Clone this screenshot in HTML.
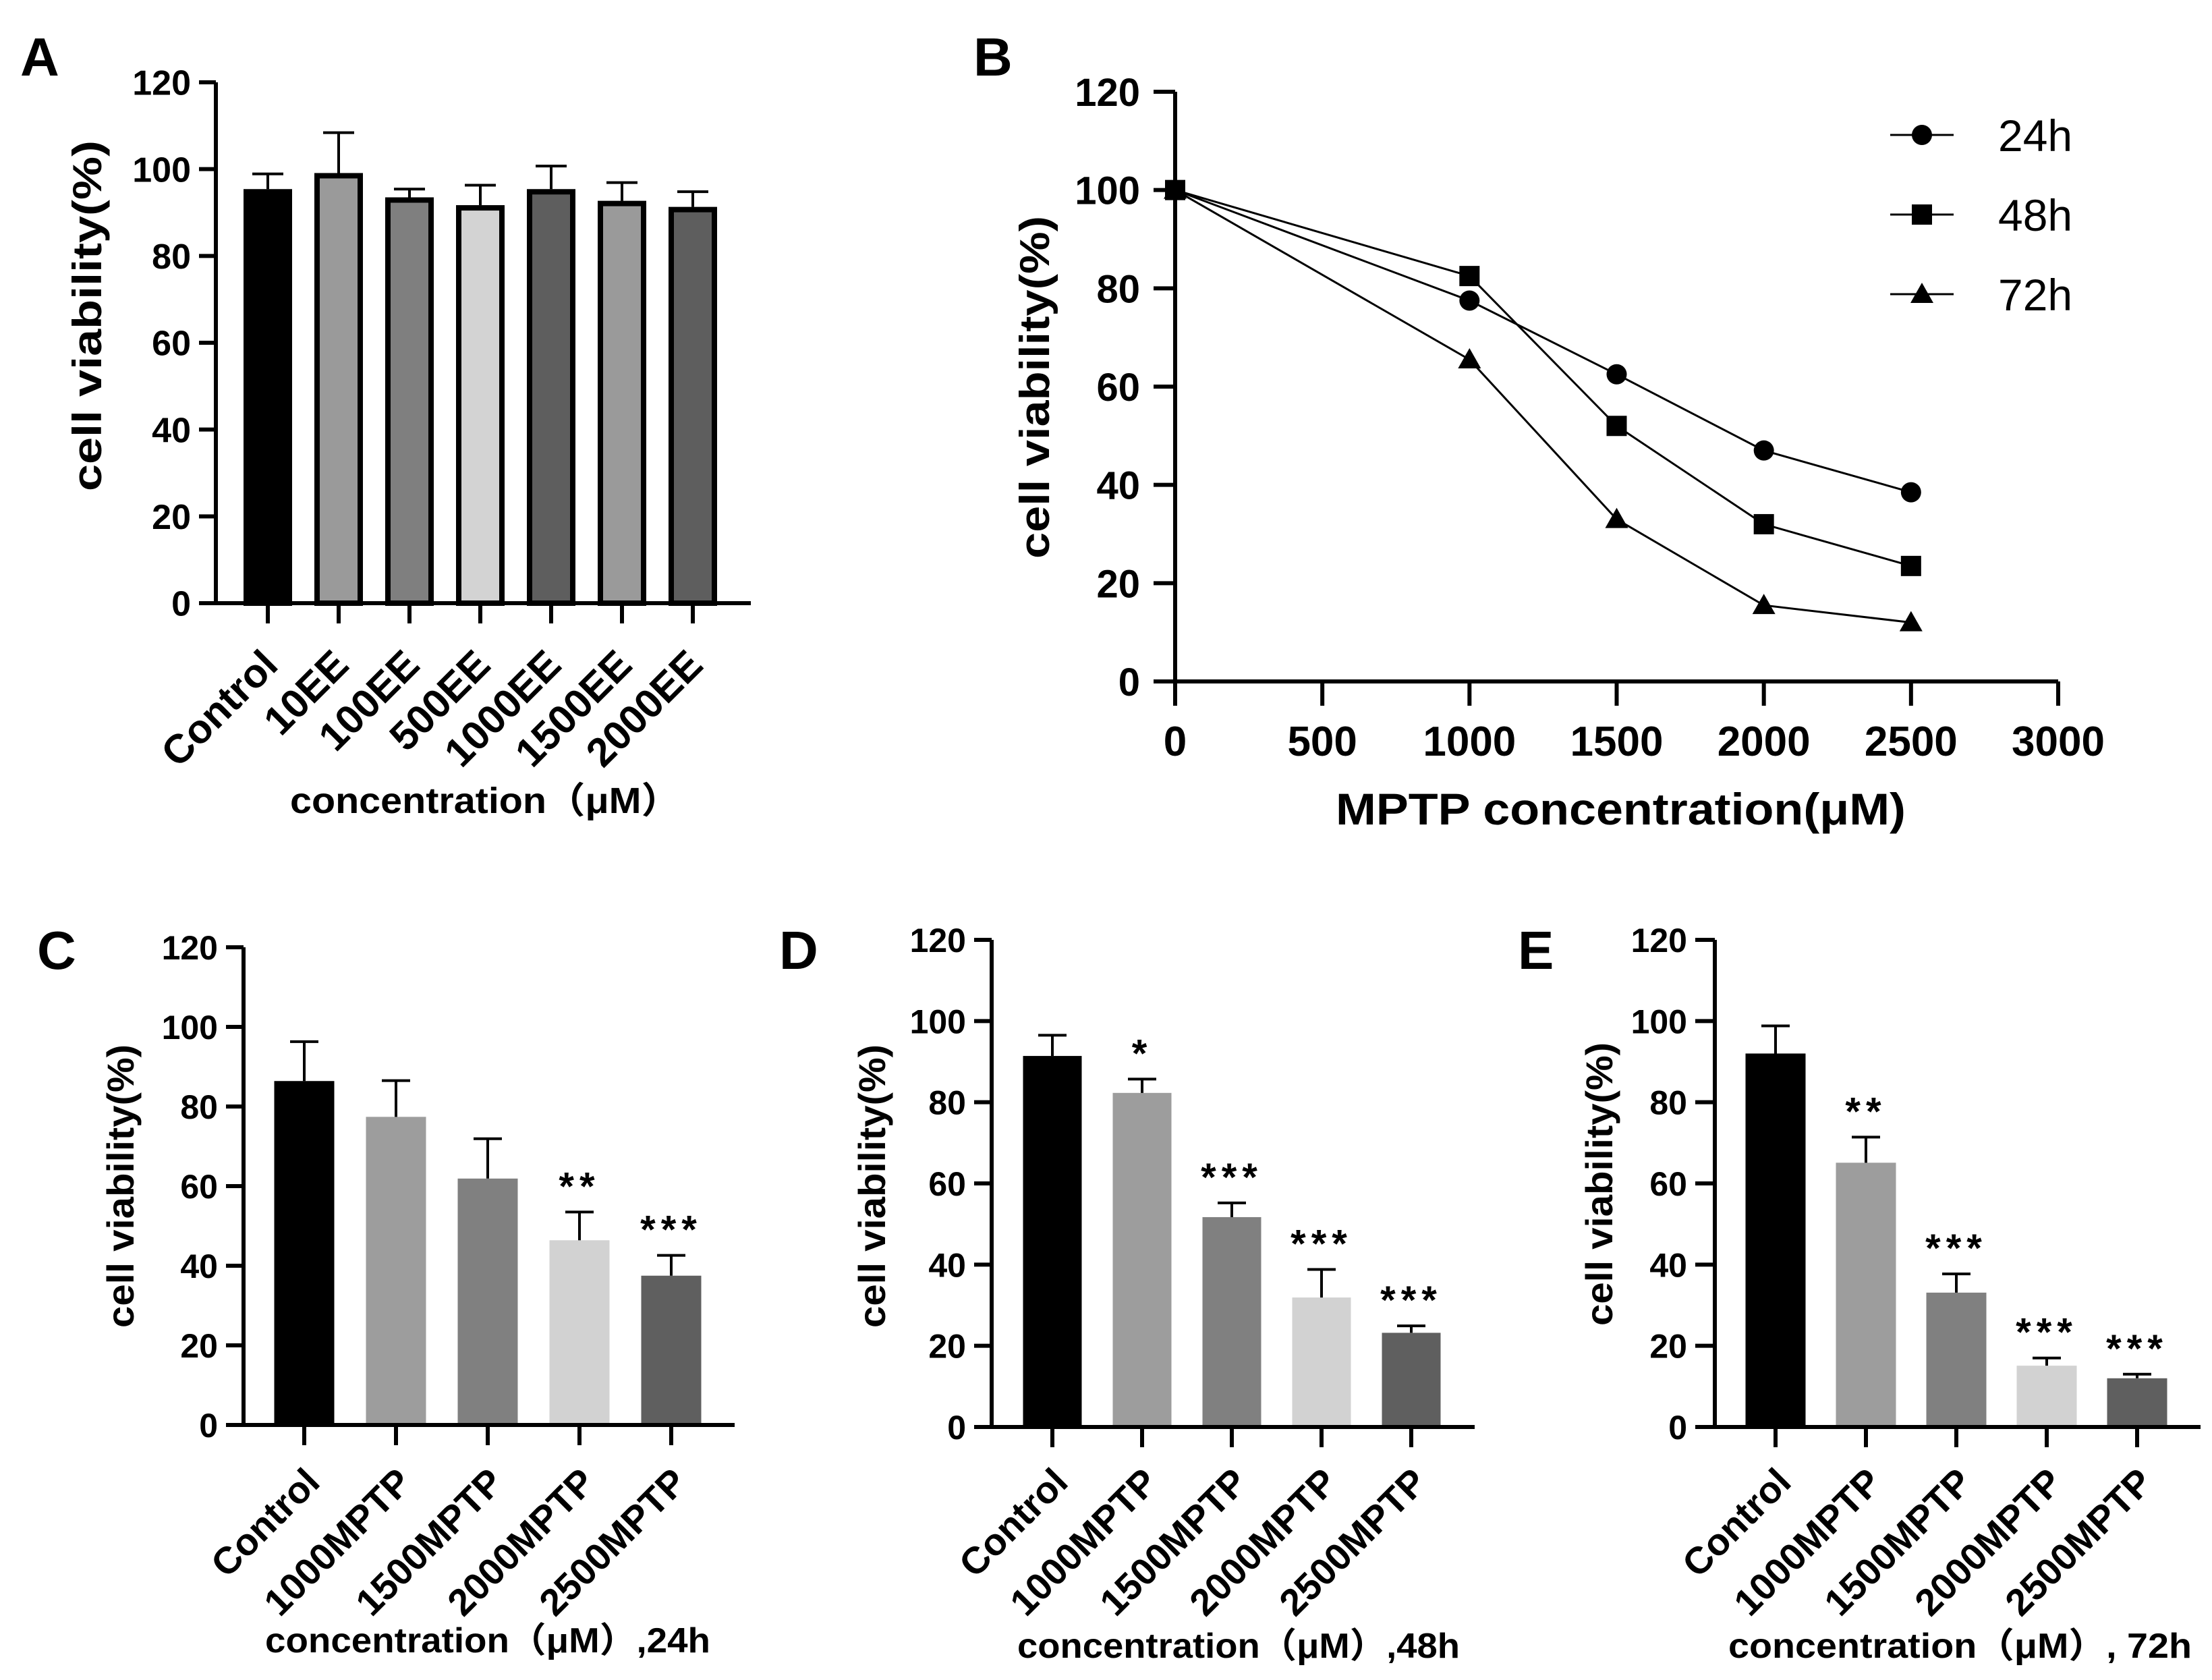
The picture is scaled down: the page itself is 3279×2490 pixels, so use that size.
<!DOCTYPE html>
<html><head><meta charset="utf-8">
<style>
html,body{margin:0;padding:0;background:#fff;}
svg{display:block;}
text{font-family:"Liberation Sans","Noto Sans CJK SC",sans-serif;fill:#000;}
</style></head>
<body>
<svg id="fig" width="3279" height="2490" viewBox="0 0 3279 2490" xmlns="http://www.w3.org/2000/svg">
<rect width="3279" height="2490" fill="#fff"/>
<text x="30" y="112" font-size="80" font-weight="bold">A</text>
<text x="1443" y="112" font-size="80" font-weight="bold">B</text>
<text x="55" y="1436" font-size="80" font-weight="bold">C</text>
<text x="1155" y="1436" font-size="80" font-weight="bold">D</text>
<text x="2250" y="1436" font-size="80" font-weight="bold">E</text>
</svg>
<script>
const NS='http://www.w3.org/2000/svg';
const svg=document.getElementById('fig');
// ---------- data ----------
const yTicks=[0,20,40,60,80,100,120];
const aCats=['Control','10EE','100EE','500EE','1000EE','1500EE','2000EE'];
const aVals=[95.4,99.1,93.5,91.7,95.4,92.7,91.3];
const aErr=[98.9,108.4,95.4,96.3,100.7,96.9,94.8];
const aColors=['#000000','#9a9a9a','#7f7f7f','#d3d3d3','#5e5e5e','#9a9a9a','#5e5e5e'];
const mCats=['Control','1000MPTP','1500MPTP','2000MPTP','2500MPTP'];
const mColors=['#000000','#9d9d9d','#808080','#d2d2d2','#5f5f5f'];
const cVals=[86.4,77.4,61.9,46.4,37.5];
const cErr=[96.3,86.5,71.9,53.5,42.6];
const cStars=['','','','**','***'];
const dVals=[91.4,82.3,51.7,31.9,23.2];
const dErr=[96.5,85.7,55.2,38.8,24.9];
const dStars=['','*','***','***','***'];
const eVals=[92,65.1,33.1,15.1,12];
const eErr=[98.8,71.4,37.7,17.0,13.0];
const eStars=['','**','***','***','***'];
const bX=[0,1000,1500,2000,2500];
const bXTicks=[0,500,1000,1500,2000,2500,3000];
const b24=[100,77.5,62.5,47,38.5];
const b48=[100,82.5,52,32,23.5];
const b72=[100,65.5,33,15.5,12];
const bSeriesNames=['24h','48h','72h'];

function el(tag,attrs,parent,txt){const e=document.createElementNS(NS,tag);for(const k in attrs)e.setAttribute(k,attrs[k]);if(txt!==undefined)e.textContent=txt;(parent||svg).appendChild(e);return e;}

function barPanel(p){
  const g=el('g',{});
  
  
  const y=v=>p.y0-(v/120)*(p.y0-p.y120);
  const xc=i=>p.x0c+i*p.step;
  p.vals.forEach((v,i)=>{
    let r;
    if(p.outline){
      r=el('rect',{x:xc(i)-p.bw/2+4,y:y(v)+4,width:p.bw-8,height:p.y0-y(v)-4,fill:p.colors[i],stroke:'#000','stroke-width':8},g);
    } else {
      r=el('rect',{x:xc(i)-p.bw/2,y:y(v),width:p.bw,height:p.y0-y(v),fill:p.colors[i]},g);
    }
    
    
    const e=el('path',{d:`M${xc(i)},${y(v)} V${y(p.err[i])} M${xc(i)-p.cap/2},${y(p.err[i])} H${xc(i)+p.cap/2}`,stroke:'#000','stroke-width':4,fill:'none'},g);
    
    
    if(p.stars&&p.stars[i]){
      const s=el('text',{x:xc(i),y:y(p.err[i])-p.starGap,'font-size':58,'font-weight':'bold','text-anchor':'middle','letter-spacing':8},g,p.stars[i]);
      
      
    }
  });
  const ax=el('path',{d:`M${p.ax},${p.y120} V${p.y0} M${p.ax-p.tl},${p.y0} H${p.xEnd}`,stroke:'#000','stroke-width':6,fill:'none'},g);
  
  
  yTicks.forEach(t=>{
    el('line',{x1:p.ax-p.tl,x2:p.ax,y1:y(t),y2:y(t),stroke:'#000','stroke-width':6},g);
    const tl=el('text',{x:p.ax-p.tl-12,y:y(t)+p.fs*0.36,'font-size':p.fs,'font-weight':'bold','text-anchor':'end'},g,String(t));
    
    
  });
  p.cats.forEach((c,i)=>{
    el('line',{x1:xc(i),x2:xc(i),y1:p.y0,y2:p.y0+30,stroke:'#000','stroke-width':6},g);
    const px=xc(i)+p.lx, py=p.y0+p.ly;
    const t=el('text',{x:px,y:py,'font-size':p.lfs,'font-weight':'bold','text-anchor':'end',transform:`rotate(-45 ${px} ${py})`},g,c);
    
    
  });
  const yt=el('text',{x:0,y:0,'font-size':p.ytfs,'font-weight':'bold','text-anchor':'middle',textLength:p.ytLen,lengthAdjust:'spacingAndGlyphs',transform:`translate(${p.ytx} ${p.yty}) rotate(-90)`},g,'cell viability(%)');
  
  
  const xt=el('text',{x:p.xtx,y:p.xty,'font-size':p.xtfs,'font-weight':'bold',textLength:p.xtLen,lengthAdjust:'spacingAndGlyphs'},g,p.xtitle);
  
  
}

barPanel({name:'panel-a-chart',cats:aCats,vals:aVals,err:aErr,colors:aColors,outline:true,
  ax:320,y0:894,y120:122,x0c:397,step:105,bw:72,cap:46,xEnd:1113,tl:25,fs:52,lfs:60,lx:18,ly:95,
  ytx:150,yty:468,ytfs:60,ytLen:520,xtx:430,xty:1205,xtfs:54,xtLen:578,xtitle:'concentration（μM）'});
barPanel({name:'panel-c-chart',cats:mCats,vals:cVals,err:cErr,colors:mColors,stars:cStars,starGap:18,
  ax:361,y0:2112,y120:1404,x0c:451,step:136,bw:89,cap:42,xEnd:1089,tl:26,fs:50,lfs:56,lx:26,ly:88,
  ytx:198,yty:1758,ytfs:56,ytLen:420,xtx:393,xty:2449,xtfs:52,xtLen:660,xtitle:'concentration（μM）,24h'});
barPanel({name:'panel-d-chart',cats:mCats,vals:dVals,err:dErr,colors:mColors,stars:dStars,starGap:18,
  ax:1470,y0:2115,y120:1393,x0c:1560,step:133,bw:87,cap:42,xEnd:2186,tl:26,fs:50,lfs:56,lx:26,ly:85,
  ytx:1312,yty:1758,ytfs:56,ytLen:420,xtx:1508,xty:2457,xtfs:52,xtLen:656,xtitle:'concentration（μM）,48h'});
barPanel({name:'panel-e-chart',cats:mCats,vals:eVals,err:eErr,colors:mColors,stars:eStars,starGap:18,
  ax:2542,y0:2115,y120:1393,x0c:2632,step:134,bw:89,cap:42,xEnd:3262,tl:29,fs:50,lfs:56,lx:26,ly:85,
  ytx:2390,yty:1755,ytfs:56,ytLen:420,xtx:2562,xty:2457,xtfs:52,xtLen:687,xtitle:'concentration（μM）, 72h'});

(function(){
  const g=el('g',{});
  
  
  const AX=1742,Y0=1010,Y120=136,XMAXP=3051;
  const xs=v=>AX+(v/3000)*(XMAXP-AX);
  const ys=v=>Y0-(v/120)*(Y0-Y120);
  const ax=el('path',{d:`M${AX},${Y120} V${Y0} H${XMAXP}`,stroke:'#000','stroke-width':6,fill:'none'},g);
  
  
  yTicks.forEach(t=>{
    el('line',{x1:AX-32,x2:AX,y1:ys(t),y2:ys(t),stroke:'#000','stroke-width':6},g);
    const tl=el('text',{x:AX-52,y:ys(t)+21,'font-size':58,'font-weight':'bold','text-anchor':'end'},g,String(t));
    
    
  });
  bXTicks.forEach(t=>{
    el('line',{x1:xs(t),x2:xs(t),y1:Y0,y2:Y0+36,stroke:'#000','stroke-width':6},g);
    const tl=el('text',{x:xs(t),y:1120,'font-size':62,'font-weight':'bold','text-anchor':'middle'},g,String(t));
    
    
  });
  function marker(shape,cx,cy,parent){
    let m;
    if(shape==='circle') m=el('circle',{cx:cx,cy:cy,r:15,fill:'#000'},parent);
    else if(shape==='square') m=el('rect',{x:cx-15,y:cy-15,width:30,height:30,fill:'#000'},parent);
    else m=el('path',{d:`M${cx},${cy-17} L${cx+17},${cy+13} L${cx-17},${cy+13} Z`,fill:'#000'},parent);
    return m;
  }
  const series=[b24,b48,b72];
  const shapes=['circle','square','triangle'];
  series.forEach((s,k)=>{
    const pts=s.map((v,i)=>xs(bX[i])+','+ys(v)).join(' ');
    const pl=el('polyline',{points:pts,fill:'none',stroke:'#000','stroke-width':3},g);
    
    
    s.forEach((v,i)=>{
      const m=marker(shapes[k],xs(bX[i]),ys(v),g);
      
      
    });
    const ly=200+k*118;
    const lg=el('g',{},g);
    
    
    el('line',{x1:2802,x2:2896,y1:ly,y2:ly,stroke:'#000','stroke-width':3},lg);
    marker(shapes[k],2849,ly,lg);
    el('text',{x:2962,y:ly+24,'font-size':66},lg,bSeriesNames[k]);
  });
  const yt=el('text',{x:0,y:0,'font-size':62,'font-weight':'bold','text-anchor':'middle',textLength:508,lengthAdjust:'spacingAndGlyphs',transform:'translate(1555 574) rotate(-90)'},g,'cell viability(%)');
  
  
  const xt=el('text',{x:1980,y:1222,'font-size':66,'font-weight':'bold',textLength:845,lengthAdjust:'spacingAndGlyphs'},g,'MPTP concentration(μM)');
  
  
})();
</script>
</body></html>
